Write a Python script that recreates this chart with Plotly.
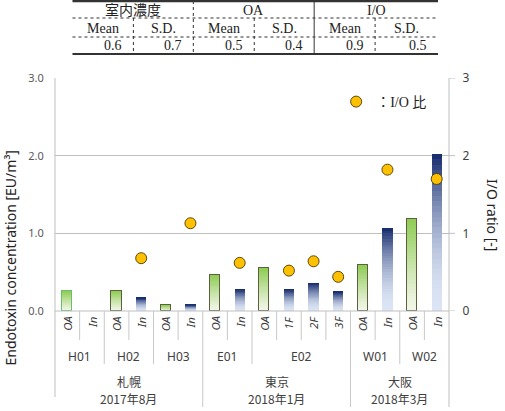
import plotly.graph_objects as go

# ---------------- data ----------------
sample_labels = ["OA", "In", "OA", "In", "OA", "In", "OA", "In",
                 "OA", "1F", "2F", "3F", "OA", "In", "OA", "In"]
sample_type = ["OA", "In", "OA", "In", "OA", "In", "OA", "In",
               "OA", "In", "In", "In", "OA", "In", "OA", "In"]
site_labels = ["H01", "H02", "H03", "E01", "E02", "W01", "W02"]
site_spans = [(0, 1), (2, 3), (4, 5), (6, 7), (8, 11), (12, 13), (14, 15)]
city_names = ["札幌", "東京", "大阪"]
city_dates = ["2017年8月", "2018年1月", "2018年3月"]
city_spans = [(0, 5), (6, 11), (12, 15)]
concentration = [0.26, None, 0.26, 0.17, 0.08, 0.08, 0.47, 0.28,
                 0.55, 0.28, 0.36, 0.25, 0.59, 1.07, 1.18, 2.02]
io_ratio = [None, None, None, 0.68, None, 1.13, None, 0.62,
            None, 0.52, 0.64, 0.44, None, 1.82, None, 1.70]
y_ticks = [0, 1, 2, 3]
y_ticklabels_left = ["0.0", "1.0", "2.0", "3.0"]
y_ticklabels_right = ["0", "1", "2", "3"]
table_groups = ["室内濃度", "OA", "I/O"]
table_stats = ["Mean", "S.D.", "Mean", "S.D.", "Mean", "S.D."]
table_values = ["0.6", "0.7", "0.5", "0.4", "0.9", "0.5"]

# ---------------- geometry helpers ----------------
W, H = 505, 411
L, R, T, B = 54.5, 449, 78, 311
ml, mr, mt, mb = L, W - R, T, H - B


def px(x):
    return (x - L) / (R - L)


def py(y):
    return (B - y) / (B - T)


def mix(c0, c1, t):
    return "rgb(%d,%d,%d)" % tuple(round(a + (b - a) * t) for a, b in zip(c0, c1))


green_top, green_bot = (142, 204, 82), (243, 246, 234)
blue_top, blue_bot = (19, 41, 107), (219, 229, 245)

fig = go.Figure()
xs = list(range(len(sample_labels)))
vals = [v if v is not None else 0 for v in concentration]
N = 30
BW = 0.42
for k in range(N):
    t = (k + 0.5) / N
    cols = []
    for st in sample_type:
        if st == "OA":
            cols.append(mix(green_bot, green_top, t ** 1.2))
        else:
            cols.append(mix(blue_bot, blue_top, t ** 1.9))
    fig.add_trace(go.Bar(x=xs, y=[v / N for v in vals], width=BW,
                         marker=dict(color=cols, line=dict(width=0)),
                         showlegend=False, hoverinfo="skip",
                         xaxis="x", yaxis="y"))

# outlines for OA bars
line_cols = []
line_w = []
for i, st in enumerate(sample_type):
    if st == "OA":
        line_cols.append("#6cbf6a" if i == 0 else "#5b6140")
        line_w.append(1.5)
    else:
        line_cols.append("rgba(0,0,0,0)")
        line_w.append(0)
fig.add_trace(go.Bar(x=xs, y=vals, width=BW,
                     marker=dict(color="rgba(0,0,0,0)",
                                 line=dict(color=line_cols, width=line_w)),
                     showlegend=False, hoverinfo="skip",
                     xaxis="x2", yaxis="y2"))

fig.add_trace(go.Scatter(x=xs, y=io_ratio, mode="markers", name="：I/O 比",
                         marker=dict(size=11, color="#ffc000",
                                     line=dict(color="#5a4a10", width=1)),
                         xaxis="x2", yaxis="y2"))

axis_common = dict(range=[-0.5, len(xs) - 0.5], showgrid=False,
                   showticklabels=False, zeroline=False, fixedrange=True)
fig.update_layout(
    width=W, height=H,
    margin=dict(l=ml, r=mr, t=mt, b=mb, pad=0),
    paper_bgcolor="white", plot_bgcolor="white",
    barmode="stack", bargap=0,
    font=dict(family="Noto Sans, Noto Sans CJK JP", color="#404040", size=11),
    xaxis=dict(**axis_common, showline=False),
    xaxis2=dict(**axis_common, overlaying="x", showline=False),
    yaxis=dict(range=[0, 3], tickvals=y_ticks, ticktext=y_ticklabels_left,
               showgrid=True, gridcolor="#bfbfbf", gridwidth=1,
               zeroline=False, showline=False,
               ticks="outside", ticklen=8, tickcolor="rgba(0,0,0,0)",
               tickfont=dict(size=11, color="#595959")),
    yaxis2=dict(range=[0, 3], tickvals=y_ticks, ticktext=y_ticklabels_right,
                overlaying="y", side="right", showgrid=False, zeroline=False,
                showline=False, ticks="outside", ticklen=10,
                tickcolor="rgba(0,0,0,0)",
                tickfont=dict(size=12, color="#404040")),
    legend=dict(x=px(336), y=py(86), xanchor="left", yanchor="top",
                bgcolor="rgba(0,0,0,0)", itemwidth=30,
                font=dict(family="Liberation Serif, Noto Sans CJK JP", size=14,
                          color="#222")),
    showlegend=True,
)

shapes = []
ann = []
sep_col = "#c8c8c8"
# baseline and axes lines
shapes.append(dict(type="line", xref="paper", yref="paper", x0=0, x1=1,
                   y0=0, y1=0, line=dict(color="#bfbfbf", width=1)))
shapes.append(dict(type="line", xref="paper", yref="paper", x0=0, x1=0,
                   y0=py(397), y1=1, line=dict(color="#bfbfbf", width=1)))
shapes.append(dict(type="line", xref="paper", yref="paper", x0=1, x1=1,
                   y0=py(407), y1=1, line=dict(color="#bfbfbf", width=1)))
# right-side tick stubs
for v in y_ticks:
    shapes.append(dict(type="line", xref="paper", yref="y", x0=1, x1=px(455),
                       y0=v, y1=v, line=dict(color="#bfbfbf", width=1)))

site_bounds = set(b for (_, b) in site_spans)
city_bounds = set(b for (_, b) in city_spans)
for i in range(len(xs) - 1):
    if i in city_bounds:
        yb = 407
    elif i in site_bounds:
        yb = 364
    else:
        yb = 340
    shapes.append(dict(type="line", xref="x", yref="paper", x0=i + 0.5, x1=i + 0.5,
                       y0=0, y1=py(yb), line=dict(color=sep_col, width=1)))

for i, lab in enumerate(sample_labels):
    ann.append(dict(x=i, y=py(314), xref="x", yref="paper", text=lab,
                    textangle=-90, showarrow=False, xanchor="center", yanchor="top",
                    font=dict(size=11.5, color="#404040", style="italic")))
for lab, (a, b) in zip(site_labels, site_spans):
    ann.append(dict(x=(a + b) / 2, y=py(356), xref="x", yref="paper", text=lab,
                    showarrow=False, yanchor="middle",
                    font=dict(size=12, color="#404040")))
for nm, dt, (a, b) in zip(city_names, city_dates, city_spans):
    ann.append(dict(x=(a + b) / 2, y=py(381), xref="x", yref="paper", text=nm,
                    showarrow=False, yanchor="middle",
                    font=dict(size=12, color="#404040", family="Noto Sans CJK JP")))
    ann.append(dict(x=(a + b) / 2, y=py(398), xref="x", yref="paper", text=dt,
                    showarrow=False, yanchor="middle",
                    font=dict(size=12, color="#404040", family="Noto Sans CJK JP")))

# axis titles
ann.append(dict(x=px(9), y=py(258), xref="paper", yref="paper",
                text="Endotoxin concentration [EU/m³]", textangle=-90,
                showarrow=False, xanchor="center", yanchor="middle",
                font=dict(size=14, color="#222")))
ann.append(dict(x=px(493), y=py(215), xref="paper", yref="paper",
                text="I/O ratio [-]", textangle=90, showarrow=False,
                xanchor="center", yanchor="middle",
                font=dict(size=14, color="#222")))

# ---------------- summary table ----------------
tf = dict(family="Liberation Serif, Noto Sans CJK JP", size=14, color="#222")
tl, tr = 72, 438
shapes.append(dict(type="line", xref="paper", yref="paper", x0=px(tl), x1=px(tr),
                   y0=py(1), y1=py(1), line=dict(color="#333", width=2.5)))
shapes.append(dict(type="line", xref="paper", yref="paper", x0=px(tl), x1=px(tr),
                   y0=py(54), y1=py(54), line=dict(color="#333", width=2)))
for yy in (18, 37):
    shapes.append(dict(type="line", xref="paper", yref="paper", x0=px(tl), x1=px(tr),
                       y0=py(yy), y1=py(yy),
                       line=dict(color="#333", width=1.2, dash="dot")))
shapes.append(dict(type="line", xref="paper", yref="paper", x0=px(193), x1=px(193),
                   y0=py(1), y1=py(54), line=dict(color="#333", width=1, dash="dot")))
shapes.append(dict(type="line", xref="paper", yref="paper", x0=px(314), x1=px(314),
                   y0=py(1), y1=py(54), line=dict(color="#333", width=1)))
for xx in (133, 254, 375):
    shapes.append(dict(type="line", xref="paper", yref="paper", x0=px(xx), x1=px(xx),
                       y0=py(18), y1=py(54),
                       line=dict(color="#333", width=1, dash="dot")))
col_edges = [72, 133, 193, 254, 314, 375, 438]
group_centers = [(72 + 193) / 2, (193 + 314) / 2, (314 + 438) / 2]
for lab, cx in zip(table_groups, group_centers):
    ann.append(dict(x=px(cx), y=py(10), xref="paper", yref="paper", text=lab,
                    showarrow=False, xanchor="center", yanchor="middle", font=tf))
for j, lab in enumerate(table_stats):
    cx = (col_edges[j] + col_edges[j + 1]) / 2
    ann.append(dict(x=px(cx), y=py(28), xref="paper", yref="paper", text=lab,
                    showarrow=False, xanchor="center", yanchor="middle", font=tf))
for j, lab in enumerate(table_values):
    ann.append(dict(x=px(col_edges[j + 1] - 9), y=py(46), xref="paper", yref="paper",
                    text=lab, showarrow=False, xanchor="right", yanchor="middle",
                    font=tf))

fig.update_layout(shapes=shapes, annotations=ann)
fig.write_html("out.html")
